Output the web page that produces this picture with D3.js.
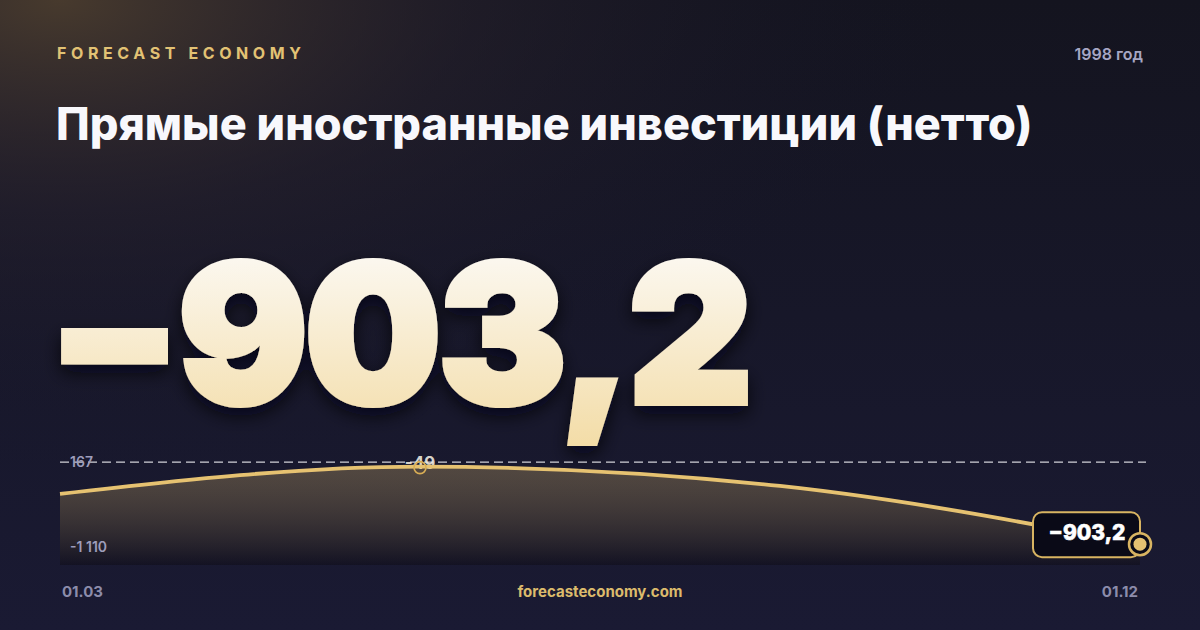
<!DOCTYPE html>
<html>

<head>
    <meta charset="utf-8">
    <style>
        body {
            margin: 0;
            background: #15152a;
        }

        svg {
            display: block;
            font-family: Inter, 'Noto Sans', sans-serif;
        }
    </style>
</head>

<body>
    <svg width="1200" height="630"></svg>

    <script src="https://d3js.org/d3.v7.min.js"></script>

    <script>
        // data (quarterly points, 1998)
        let dates = ["01.03", "01.06", "01.09", "01.12"]
        let values = [-350, -49, -262, -903.2]
        let yTicks = [167, -1110]          // labels shown at top / bottom of the sparkline
        let peakLabel = "-49"
        let lastLabel = "−903,2"
        let bigNumber = "−903,2"
        let title = "Прямые иностранные инвестиции (нетто)"
        let brand = "FORECAST ECONOMY"
        let period = "1998 год"
        let site = "forecasteconomy.com"

        let w = 1200
        let h = 630
        let margin = { left: 60, right: 60 }
        let chartTop = 447
        let chartBottom = 563
        let areaBottom = 565

        let gold = "#e6c271"

        let svg = d3.select("svg")

        let defs = svg.append("defs")

        // warm glow in the top left corner
        let glow = defs.append("radialGradient")
            .attr("id", "glow")
            .attr("cx", 0.05).attr("cy", 0)
            .attr("r", 0.75)
        glow.append("stop").attr("offset", "0%").attr("stop-color", "#4a3c2e").attr("stop-opacity", 0.95)
        glow.append("stop").attr("offset", "45%").attr("stop-color", "#2c2530").attr("stop-opacity", 0.45)
        glow.append("stop").attr("offset", "100%").attr("stop-color", "#15152a").attr("stop-opacity", 0)

        let bg = defs.append("linearGradient")
            .attr("id", "bg").attr("x1", 0).attr("y1", 0).attr("x2", 0).attr("y2", 1)
        bg.append("stop").attr("offset", "0%").attr("stop-color", "#14141f")
        bg.append("stop").attr("offset", "100%").attr("stop-color", "#1a1a33")

        // number gradient white -> pale gold
        let numGrad = defs.append("linearGradient")
            .attr("id", "numGrad").attr("x1", 0).attr("y1", 0).attr("x2", 0).attr("y2", 1)
        numGrad.append("stop").attr("offset", "0%").attr("stop-color", "#fdfdfe")
        numGrad.append("stop").attr("offset", "100%").attr("stop-color", "#f3dca6")

        let areaGrad = defs.append("linearGradient")
            .attr("id", "areaGrad").attr("x1", 0).attr("y1", 0).attr("x2", 0).attr("y2", 1)
        areaGrad.append("stop").attr("offset", "0%").attr("stop-color", gold).attr("stop-opacity", 0.28)
        areaGrad.append("stop").attr("offset", "100%").attr("stop-color", "#0c0a12").attr("stop-opacity", 0.45)

        let shadow = defs.append("filter").attr("id", "shadow")
            .attr("x", "-10%").attr("y", "-10%").attr("width", "120%").attr("height", "130%")
        shadow.append("feDropShadow")
            .attr("dx", 0).attr("dy", 8)
            .attr("stdDeviation", 9)
            .attr("flood-color", "#05050c")
            .attr("flood-opacity", 0.75)

        svg.append("rect").attr("width", w).attr("height", h).attr("fill", "url(#bg)")
        svg.append("rect").attr("width", w).attr("height", h).attr("fill", "url(#glow)")

        // header
        svg.append("text")
            .attr("x", 57).attr("y", 59)
            .attr("fill", "#e2c274")
            .style("font-size", "16px")
            .style("font-weight", 700)
            .style("letter-spacing", "4.6px")
            .text(brand)

        svg.append("text")
            .attr("x", 1143).attr("y", 60)
            .attr("text-anchor", "end")
            .attr("fill", "#a6a6c4")
            .style("font-size", "16px")
            .style("font-weight", 600)
            .text(period)

        svg.append("text")
            .attr("x", 56).attr("y", 140)
            .attr("fill", "#f8f8fc")
            .style("font-size", "45px")
            .style("font-weight", 800)
            .text(title)

        // big value (light stroke to thicken it towards a black weight)
        svg.append("text")
            .attr("x", 48).attr("y", 403)
            .attr("fill", "url(#numGrad)")
            .attr("stroke", "url(#numGrad)")
            .attr("stroke-width", 6)
            .attr("stroke-linejoin", "miter")
            .attr("filter", "url(#shadow)")
            .style("font-size", "192px")
            .style("font-weight", 900)
            .style("letter-spacing", "-3px")
            .text(bigNumber)

        // sparkline
        let x = d3.scalePoint()
            .domain(dates)
            .range([margin.left, w - margin.right])

        let y = d3.scaleLinear()
            .domain([yTicks[1], yTicks[0]])
            .range([chartBottom, chartTop])

        let data = dates.map((d, i) => ({ date: d, value: values[i] }))

        let area = d3.area()
            .x(d => x(d.date))
            .y0(areaBottom)
            .y1(d => y(d.value))
            .curve(d3.curveMonotoneX)

        let line = d3.line()
            .x(d => x(d.date))
            .y(d => y(d.value))
            .curve(d3.curveMonotoneX)

        svg.append("path")
            .datum(data)
            .attr("d", area)
            .attr("fill", "url(#areaGrad)")

        svg.append("line")
            .attr("x1", margin.left).attr("x2", 1146)
            .attr("y1", y(0)).attr("y2", y(0))
            .attr("stroke", "#f2f2f6")
            .attr("stroke-opacity", 0.85)
            .attr("stroke-width", 1.4)
            .attr("stroke-dasharray", "9,5")

        // range labels
        svg.selectAll(".ylab")
            .data(yTicks)
            .join("text")
            .attr("class", "ylab")
            .attr("x", 70)
            .attr("y", (d, i) => i == 0 ? y(0) + 5 : areaBottom - 13)
            .attr("fill", "#9d9dbb")
            .style("font-size", "14px")
            .style("font-weight", 600)
            .text(d => d3.format(",")(d).replace(/,/g, " ").replace("−", "-"))

        // peak label
        let peak = data[d3.maxIndex(data, d => d.value)]
        svg.append("text")
            .attr("x", x(peak.date))
            .attr("y", y(peak.value) + 2)
            .attr("text-anchor", "middle")
            .attr("fill", "#f1ede2")
            .attr("fill-opacity", 0.9)
            .style("font-size", "17px")
            .style("font-weight", 700)
            .text(peakLabel)

        svg.append("path")
            .datum(data)
            .attr("d", line)
            .attr("fill", "none")
            .attr("stroke", gold)
            .attr("stroke-width", 3.8)

        svg.append("circle")
            .attr("cx", x(peak.date))
            .attr("cy", y(peak.value) + 1)
            .attr("r", 6)
            .attr("fill", "none")
            .attr("stroke", "#d9ae55")
            .attr("stroke-width", 1.6)

        // last value badge
        let last = data[data.length - 1]
        let lx = x(last.date)
        let ly = y(last.value)

        svg.append("rect")
            .attr("x", lx - 107).attr("y", ly - 32)
            .attr("width", 107).attr("height", 45)
            .attr("rx", 9)
            .attr("fill", "#0a0a17")
            .attr("stroke", "#d8b462")
            .attr("stroke-width", 2)

        svg.append("text")
            .attr("x", lx - 53).attr("y", ly - 4)
            .attr("text-anchor", "middle")
            .attr("fill", "#ffffff")
            .attr("stroke", "#ffffff")
            .attr("stroke-width", 0.6)
            .style("font-size", "21px")
            .style("font-weight", 800)
            .text(lastLabel)

        svg.append("circle")
            .attr("cx", lx).attr("cy", ly)
            .attr("r", 11)
            .attr("fill", "#0a0a17")
            .attr("stroke", "#d8b462")
            .attr("stroke-width", 2.5)

        svg.append("circle")
            .attr("cx", lx).attr("cy", ly)
            .attr("r", 6.5)
            .attr("fill", gold)

        // footer
        svg.append("text")
            .attr("x", 62).attr("y", 597)
            .attr("fill", "#8c8cab")
            .style("font-size", "15px")
            .style("font-weight", 700)
            .text(dates[0])

        svg.append("text")
            .attr("x", 1138).attr("y", 597)
            .attr("text-anchor", "end")
            .attr("fill", "#8c8cab")
            .style("font-size", "15px")
            .style("font-weight", 700)
            .text(dates[dates.length - 1])

        svg.append("text")
            .attr("x", 600).attr("y", 597)
            .attr("text-anchor", "middle")
            .attr("fill", "#dcbb6c")
            .style("font-size", "15px")
            .style("font-weight", 700)
            .text(site)
    </script>
</body>

</html>
